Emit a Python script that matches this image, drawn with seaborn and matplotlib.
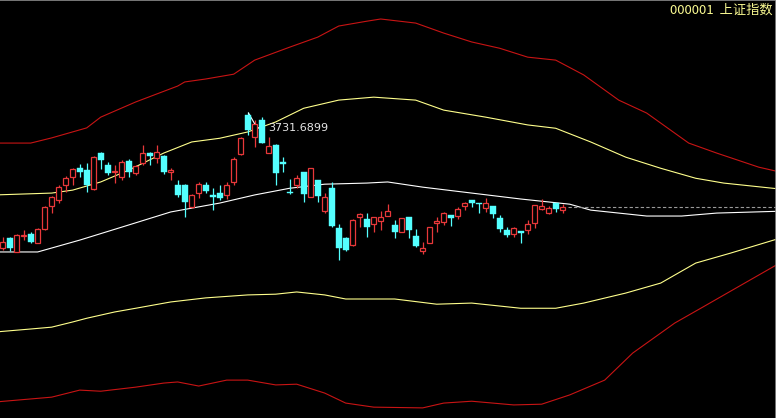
import numpy as np
import pandas as pd
import matplotlib
matplotlib.use("Agg")
import matplotlib.pyplot as plt
import seaborn as sns

# ---- candle data (daily OHLC, 000001 上证指数) ----
opens = [3364, 3391, 3353, 3396, 3402, 3377, 3415, 3477, 3493, 3534,
         3555, 3580, 3574, 3523, 3620, 3588, 3569, 3555, 3599, 3566,
         3593, 3620, 3607, 3612, 3569, 3534, 3534, 3474, 3512, 3534,
         3507, 3512, 3507, 3542, 3618, 3723, 3663, 3709, 3620, 3642,
         3596, 3515, 3534, 3569, 3501, 3547, 3464, 3526, 3418, 3391,
         3372, 3447, 3442, 3428, 3436, 3450, 3426, 3407, 3447, 3396,
         3356, 3377, 3431, 3434, 3453, 3450, 3477, 3493, 3485, 3472,
         3477, 3444, 3412, 3401, 3409, 3412, 3431, 3469, 3458, 3485,
         3466]
highs = [3393, 3393, 3402, 3412, 3407, 3418, 3477, 3504, 3534, 3558,
         3580, 3591, 3593, 3612, 3623, 3596, 3588, 3601, 3604, 3588,
         3642, 3623, 3642, 3615, 3580, 3547, 3537, 3510, 3542, 3542,
         3526, 3534, 3542, 3609, 3663, 3731.6899, 3709, 3717, 3663, 3645,
         3609, 3550, 3561, 3569, 3580, 3547, 3512, 3542, 3428, 3393,
         3442, 3458, 3458, 3447, 3463, 3482, 3439, 3444, 3447, 3415,
         3380, 3420, 3447, 3461, 3453, 3474, 3488, 3493, 3485, 3499,
         3477, 3453, 3420, 3420, 3409, 3439, 3480, 3496, 3477, 3485,
         3482]
lows = [3358, 3356, 3353, 3385, 3377, 3377, 3412, 3458, 3485, 3515,
        3534, 3555, 3515, 3520, 3577, 3561, 3539, 3547, 3555, 3561,
        3588, 3588, 3593, 3564, 3547, 3501, 3447, 3472, 3499, 3512,
        3466, 3493, 3496, 3534, 3615, 3669, 3636, 3647, 3620, 3534,
        3569, 3510, 3526, 3488, 3501, 3488, 3458, 3420, 3331, 3356,
        3369, 3420, 3393, 3407, 3412, 3450, 3391, 3407, 3391, 3366,
        3347, 3377, 3407, 3426, 3423, 3442, 3466, 3474, 3458, 3461,
        3444, 3407, 3393, 3393, 3377, 3401, 3418, 3466, 3455, 3461,
        3458]
closes = [3380, 3364, 3399, 3399, 3380, 3415, 3474, 3501, 3528, 3553,
          3577, 3569, 3534, 3609, 3601, 3566, 3572, 3596, 3569, 3585,
          3620, 3612, 3623, 3569, 3574, 3507, 3488, 3507, 3537, 3518,
          3501, 3499, 3534, 3604, 3661, 3682, 3698, 3647, 3639, 3566,
          3591, 3512, 3553, 3510, 3580, 3504, 3501, 3423, 3364, 3358,
          3439, 3455, 3420, 3447, 3447, 3463, 3407, 3444, 3412, 3369,
          3364, 3420, 3436, 3458, 3444, 3469, 3485, 3485, 3482, 3485,
          3455, 3415, 3399, 3418, 3404, 3428, 3480, 3477, 3472, 3469,
          3474]

# ---- band lines (position index, value) ----
outer_up_x = [-1, 4, 7, 12, 14, 19, 25, 26, 29, 33, 36, 41, 45, 48, 52, 54, 59,
              63, 67, 71, 75, 79, 83, 88, 92, 98, 102, 108, 111]
outer_up_y = [3647, 3647, 3661, 3688, 3717, 3758, 3801, 3812, 3820, 3833, 3871,
              3906, 3933, 3963, 3976, 3982, 3971, 3944, 3920, 3903, 3879, 3871,
              3831, 3763, 3728, 3647, 3620, 3582, 3569]
inner_up_x = [-1, 7, 10, 14, 18, 23, 27, 31, 35, 39, 43, 48, 53, 59, 63, 69, 75,
              79, 84, 89, 94, 99, 103, 111]
inner_up_y = [3507, 3512, 3520, 3542, 3574, 3620, 3650, 3660, 3677, 3704, 3741,
              3763, 3771, 3763, 3736, 3717, 3696, 3687, 3650, 3609, 3579, 3552,
              3539, 3523]
mid_x = [-1, 5, 11, 17, 24, 31, 36, 41, 46, 52, 55, 60, 67, 74, 81, 84, 92, 97,
         102, 111]
mid_y = [3353, 3353, 3385, 3420, 3461, 3485, 3507, 3525, 3536, 3539, 3542, 3528,
         3512, 3496, 3482, 3466, 3450, 3450, 3458, 3463]
inner_dn_x = [-1, 4, 7, 10, 12, 16, 19, 24, 29, 35, 39, 42, 46, 49, 56, 62, 67,
              74, 79, 83, 89, 94, 99, 104, 111]
inner_dn_y = [3137, 3145, 3150, 3164, 3174, 3191, 3201, 3218, 3229, 3237, 3239,
              3245, 3237, 3226, 3226, 3212, 3215, 3201, 3201, 3215, 3242, 3269,
              3323, 3350, 3390]
outer_dn_x = [-1, 7, 11, 14, 19, 23, 25, 28, 32, 35, 39, 42, 46, 49, 53, 60, 63,
              67, 73, 77, 81, 86, 90, 96, 100, 106, 111]
outer_dn_y = [2948, 2961, 2980, 2977, 2988, 2999, 3002, 2991, 3007, 3007, 2994,
              2996, 2972, 2945, 2934, 2932, 2945, 2950, 2940, 2942, 2967, 3007,
              3080, 3161, 3204, 3269, 3323]

title_text = "000001  上证指数"

# ---- styles ----
UP = "#E8383A"
DOWN = "#54FFFF"
BAND_RED = "#C81414"
BAND_YEL = "#FFFF8C"
MID = "#FFFFFF"

sns.set_theme(style="dark", rc={"axes.facecolor": "black",
                                "figure.facecolor": "black"})
plt.rcParams["font.family"] = ["DejaVu Sans"]

fig = plt.figure(figsize=(7.76, 4.18), dpi=100)
ax = fig.add_axes([0, 0, 1, 1])
ax.set_facecolor("black")

lw = 0.8
for xs, ys, col in [(outer_up_x, outer_up_y, BAND_RED),
                    (inner_up_x, inner_up_y, BAND_YEL),
                    (mid_x, mid_y, MID),
                    (inner_dn_x, inner_dn_y, BAND_YEL),
                    (outer_dn_x, outer_dn_y, BAND_RED)]:
    sns.lineplot(x=xs, y=ys, ax=ax, color=col, linewidth=lw, sort=False,
                 estimator=None)

df = pd.DataFrame({"o": opens, "h": highs, "l": lows, "c": closes})
df["i"] = np.arange(len(df))
up = df[df.c >= df.o]
dn = df[df.c < df.o]

w = 0.72
# wicks
ax.vlines(up.i, np.maximum(up.o, up.c), up.h, color=UP, linewidth=0.9, zorder=3)
ax.vlines(up.i, up.l, np.minimum(up.o, up.c), color=UP, linewidth=0.9, zorder=3)
ax.vlines(dn.i, dn.l, dn.h, color=DOWN, linewidth=0.9, zorder=3)
# bodies
ax.bar(up.i, (up.c - up.o).clip(lower=0.8), bottom=up.o, width=w,
       facecolor="black", edgecolor=UP, linewidth=0.9, zorder=4)
ax.bar(dn.i, (dn.o - dn.c).clip(lower=0.8), bottom=dn.c, width=w + 0.08,
       facecolor=DOWN, edgecolor=DOWN, linewidth=0.3, zorder=4)

# last close dashed
last = len(df) - 1
ax.hlines(closes[-1], last + 0.7, 112, colors="#9A9A9A", linewidth=0.8,
          linestyles=(0, (3, 2)), zorder=2)

# peak annotation
pk = int(np.argmax(highs))
ax.annotate(f"{highs[pk]:.4f}", xy=(pk, highs[pk]), xytext=(14.5, -11.5),
            textcoords="offset points", color="#E6E6E6", fontsize=8,
            va="center", ha="left",
            arrowprops=dict(arrowstyle="-", color="white", lw=0.8,
                            shrinkA=0, shrinkB=1,
                            connectionstyle="angle,angleA=0,angleB=-60,rad=0"))

ax.text(0.996, 0.975, title_text, transform=ax.transAxes, ha="right", va="center",
        color="#F8F890", fontsize=9.5,
        family=["Noto Sans CJK SC", "DejaVu Sans"])

ax.set_xlim(-2.7 / 7, (776 - 2.7) / 7)
ax.set_ylim(4033.3 - 2.7 * 418, 4033.3)
ax.set_xticks([])
ax.set_yticks([])
ax.set_xlabel("")
ax.set_ylabel("")
ax.grid(False)
for s in ["left", "bottom"]:
    ax.spines[s].set_visible(False)
for s in ["top", "right"]:
    ax.spines[s].set_visible(True)
    ax.spines[s].set_color("#8C8C8C")
    ax.spines[s].set_linewidth(1.2)

fig.savefig("out.png", dpi=100, facecolor="black")
